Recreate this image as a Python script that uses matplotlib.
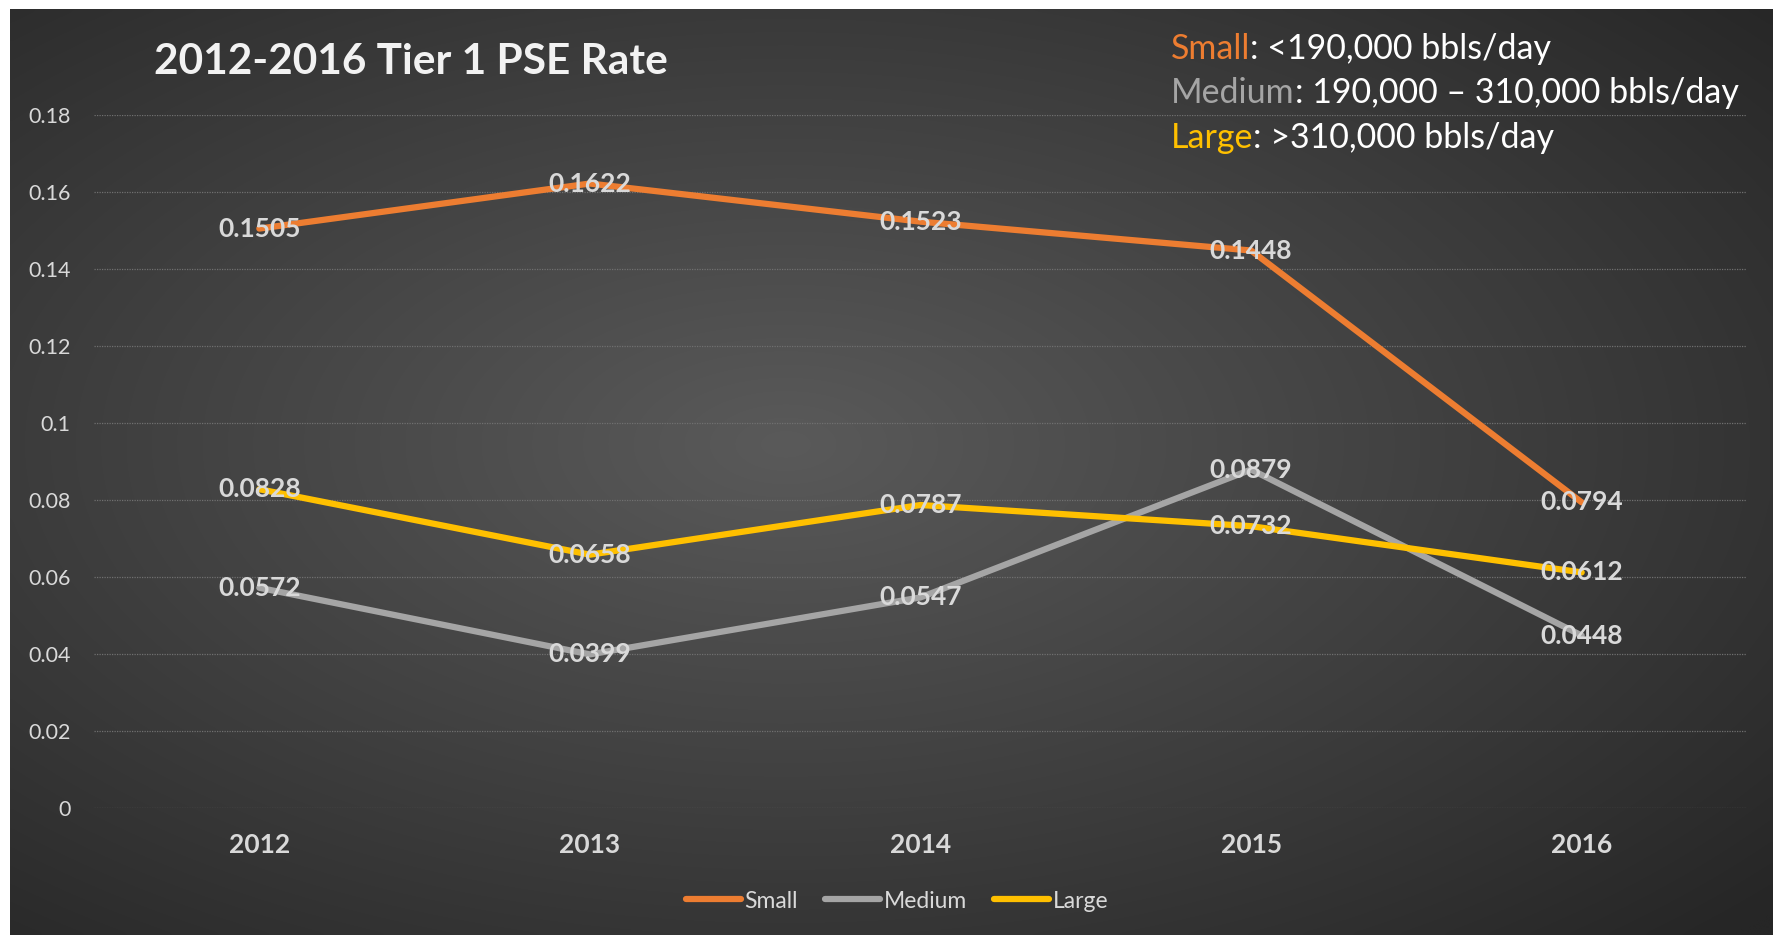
#2012-2016 Tier 1 PSE rate by refinery size
import numpy as np
import matplotlib
matplotlib.use('Agg')
import matplotlib.pyplot as plt

plt.rcParams['font.family'] = ['Lato', 'DejaVu Sans']

#data
years = ['2012', '2013', '2014', '2015', '2016']
small = [0.1505, 0.1622, 0.1523, 0.1448, 0.0794]
medium = [0.0572, 0.0399, 0.0547, 0.0879, 0.0448]
large = [0.0828, 0.0658, 0.0787, 0.0732, 0.0612]
yticks = [0, 0.02, 0.04, 0.06, 0.08, 0.1, 0.12, 0.14, 0.16, 0.18]
ytick_labels = ['0', '0.02', '0.04', '0.06', '0.08', '0.1', '0.12', '0.14', '0.16', '0.18']

c_small = '#ED7D31'
c_medium = '#A5A5A5'
c_large = '#FFC000'
c_text = '#D9D9D9'

W, H = 1773, 935
fig = plt.figure(figsize=(W / 100, H / 100), dpi=100, facecolor='white')

#dark radial gradient background (white border left/top)
bg = fig.add_axes([10 / W, 0, 1 - 10 / W, 1 - 9 / H])
gx, gy = np.meshgrid(np.linspace(0, 1, 400), np.linspace(0, 1, 220))
r = np.sqrt(((gx - 0.44) / 0.75) ** 2 + ((gy - 0.47) / 0.75) ** 2)
shade = 90 - 52 * np.clip(r, 0, 1)
img = np.dstack([shade, shade, shade]) / 255
bg.imshow(img, aspect='auto', extent=[0, 1, 0, 1], origin='upper', interpolation='bicubic')
bg.axis('off')

ax = fig.add_axes([94 / W, 1 - 808 / H, (1747 - 94) / W, (808 - 115) / H])
ax.patch.set_alpha(0)

x = np.arange(len(years))
ax.plot(x, small, color=c_small, lw=4.5, solid_capstyle='round', solid_joinstyle='round', label='Small', zorder=3)
ax.plot(x, medium, color=c_medium, lw=4.5, solid_capstyle='round', solid_joinstyle='round', label='Medium', zorder=3)
ax.plot(x, large, color=c_large, lw=4.5, solid_capstyle='round', solid_joinstyle='round', label='Large', zorder=3)

#data labels centred on the points
for series in [small, medium, large]:
    for i, v in enumerate(series):
        ax.text(x[i], v, '%.4f' % v, ha='center', va='center', fontsize=19,
                fontweight='bold', color=c_text, zorder=4)

ax.set_xlim(-0.5, 4.5)
ax.set_ylim(0, 0.18)
ax.set_xticks(x)
ax.set_xticklabels(years, fontsize=19, fontweight='bold', color=c_text)
ax.set_yticks(yticks)
ax.set_yticklabels(ytick_labels, fontsize=15.5, color=c_text)
ax.tick_params(axis='x', length=0, pad=18)
ax.tick_params(axis='y', length=0, pad=17)
ax.grid(axis='y', color='#707070', lw=0.9, linestyle=(0, (1, 1)))
ax.set_axisbelow(True)
for s in ax.spines.values():
    s.set_visible(False)

fig.text(154 / W, 1 - 62 / H, '2012-2016 Tier 1 PSE Rate', fontsize=30.5, fontweight='bold',
         color='#F2F2F2', ha='left', va='center')

#size definitions, first word coloured
defs = [('Small', c_small, ': <190,000 bbls/day', 49),
        ('Medium', c_medium, ': 190,000 \u2013 310,000 bbls/day', 93),
        ('Large', c_large, ': >310,000 bbls/day', 138)]
for word, col, rest, yp in defs:
    t = fig.text(1171 / W, 1 - yp / H, word, fontsize=24.5, color=col, ha='left', va='center')
    ax.annotate(rest, xy=(1, 0), xycoords=t, va='bottom', ha='left', fontsize=24.5,
                color='white', annotation_clip=False)

leg = fig.legend(loc='center', bbox_to_anchor=(897 / W, 1 - 901 / H), ncol=3, frameon=False,
                 fontsize=16.5, handlelength=2.4, handletextpad=0.15, columnspacing=1.2)
for txt in leg.get_texts():
    txt.set_color(c_text)

fig.savefig('out.png', dpi=100, facecolor=fig.get_facecolor())
